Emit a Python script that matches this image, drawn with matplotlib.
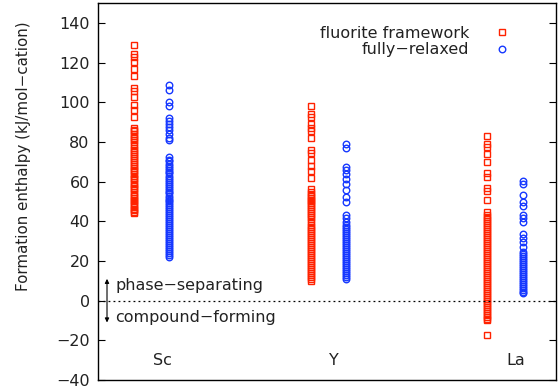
import matplotlib
matplotlib.use("Agg")
import matplotlib.pyplot as plt

plt.rcParams["font.family"] = ["DejaVu Sans"]

# cation categories
categories = ["Sc", "Y", "La"]
series_names = ["fluorite framework", "fully\u2212relaxed"]

# formation enthalpies (kJ/mol-cation)
sc_fluorite = [129, 124.5, 123, 120.5, 117, 113.5, 107, 105.5, 102.5, 98.5, 96, 92.5,
               87, 86, 85.5, 84, 83, 82, 81, 80, 78.5, 77, 76, 75, 74, 73, 72, 71,
               70, 69, 68, 67, 66, 65.5, 64, 63, 62, 61.5, 60, 59, 58, 57, 56.5, 55,
               54, 53, 52, 51, 50, 49, 48, 47, 46, 45.5, 44.5, 44]
sc_relaxed = [108.5, 106, 100, 98, 92, 90.5, 89, 87.5, 86, 84, 82, 81,
              72.5, 71, 70.5, 69, 68, 67, 66, 65, 64.5, 63, 62, 61, 60, 59, 58,
              57, 56, 55, 54.5, 53, 52, 51, 50, 49, 48, 47, 46, 45, 44, 43, 42,
              41, 40, 39, 38, 37, 36, 35, 34, 33, 32, 31, 30, 29, 28, 27, 26, 25,
              24, 23, 22]
y_fluorite = [98, 94, 92.5, 89, 87, 85.5, 82, 76, 74.5, 71, 68, 65.5, 62,
              56.5, 55, 54, 53, 52, 51, 50, 49, 48, 47, 46, 45, 44, 43, 42, 41,
              39.5, 38, 37, 36, 35, 34, 33, 32, 31, 30, 29, 28, 27, 26, 25, 24,
              23, 22, 21, 20, 19, 18, 17, 16, 15, 14, 13, 12, 11, 10]
y_relaxed = [79, 77, 67.5, 66, 64, 61.5, 59, 56, 52.5, 49.5, 43, 41.5,
             39.5, 38, 37, 36, 35, 34, 33, 32, 31, 30, 29, 28, 27, 26, 25, 24,
             23, 22, 21, 20, 19, 18, 17, 16, 15, 14, 13, 12, 11]
la_fluorite = [83, 79, 77.5, 74, 70, 64.5, 62.5, 57, 55.5, 51,
               44.5, 43, 42, 41, 40, 39, 38, 37, 36, 35, 34, 33, 32, 31, 30, 29,
               28, 27, 26, 25, 24, 23, 22, 21, 20, 19, 18, 17, 16, 15, 14, 13, 12,
               11, 10, 9, 8, 7, 6, 5, 4, 3, 2, 1, 0, -1, -2, -3, -4, -5, -6, -7,
               -8, -9, -10, -17.5]
la_relaxed = [60.5, 59, 53.5, 49.5, 47.5, 43, 41.5, 39.5, 33.5, 31.5, 29.5, 27,
              24.5, 23.5, 22.5, 21.5, 20.5, 19.5, 18.5, 17.5, 16.5, 15.5, 14.5,
              13.5, 12.5, 11.5, 10.5, 9.5, 8.5, 7.5, 6.5, 5.5, 4.5, 4]

fluorite = [sc_fluorite, y_fluorite, la_fluorite]
relaxed = [sc_relaxed, y_relaxed, la_relaxed]

red = "#ff2200"
blue = "#1638ff"
txt = "#222222"
fs = 11.5

fig = plt.figure(figsize=(5.59, 3.92), dpi=100)
ax = fig.add_axes([0.1753, 0.0306, 0.8193, 0.9614])

for i, (fl, rl) in enumerate(zip(fluorite, relaxed)):
    ax.plot([i - 0.1] * len(fl), fl, ls="none", marker="s", ms=4.7,
            mfc="none", mec=red, mew=1.0,
            label=series_names[0] if i == 0 else None)
    ax.plot([i + 0.1] * len(rl), rl, ls="none", marker="o", ms=4.7,
            mfc="none", mec=blue, mew=1.0,
            label=series_names[1] if i == 0 else None)

# category names sit inside the frame, near the bottom
label_x = [0.06, 1.03, 2.06]
for x, name in zip(label_x, categories):
    ax.text(x, -30, name, ha="center", va="center", fontsize=fs, color=txt)

ax.axhline(0, color="black", lw=0.9, ls=(0, (1.5, 2.5)))

ax.annotate("", xy=(-0.252, -11), xytext=(-0.252, 11),
            arrowprops=dict(arrowstyle="<|-|>", lw=0.8, color="black",
                            mutation_scale=6, shrinkA=0, shrinkB=0))
ax.text(-0.205, 7.5, "phase\u2212separating", ha="left", va="center",
        fontsize=fs, color=txt)
ax.text(-0.205, -8.5, "compound\u2212forming", ha="left", va="center",
        fontsize=fs, color=txt)

ax.set_xlim(-0.303, 2.289)
ax.set_ylim(-40, 150)
ax.set_yticks(range(-40, 141, 20))
ax.set_xticks([])
ax.tick_params(axis="y", direction="in", right=True, length=5, width=0.8,
               labelsize=fs, labelcolor=txt, pad=6)
for s in ax.spines.values():
    s.set_linewidth(1.0)

ax.set_ylabel("Formation enthalpy (kJ/mol\u2212cation)", fontsize=10.9,
              color=txt)
ax.yaxis.set_label_coords(-0.146, 0.593)

ax.legend(loc="upper right", bbox_to_anchor=(0.925, 0.97), frameon=False,
          markerfirst=False, fontsize=fs, handlelength=1.0, handletextpad=1.6,
          labelspacing=0.1, borderpad=0.2)
for t in ax.get_legend().get_texts():
    t.set_color(txt)

fig.savefig("out.png", dpi=100)
